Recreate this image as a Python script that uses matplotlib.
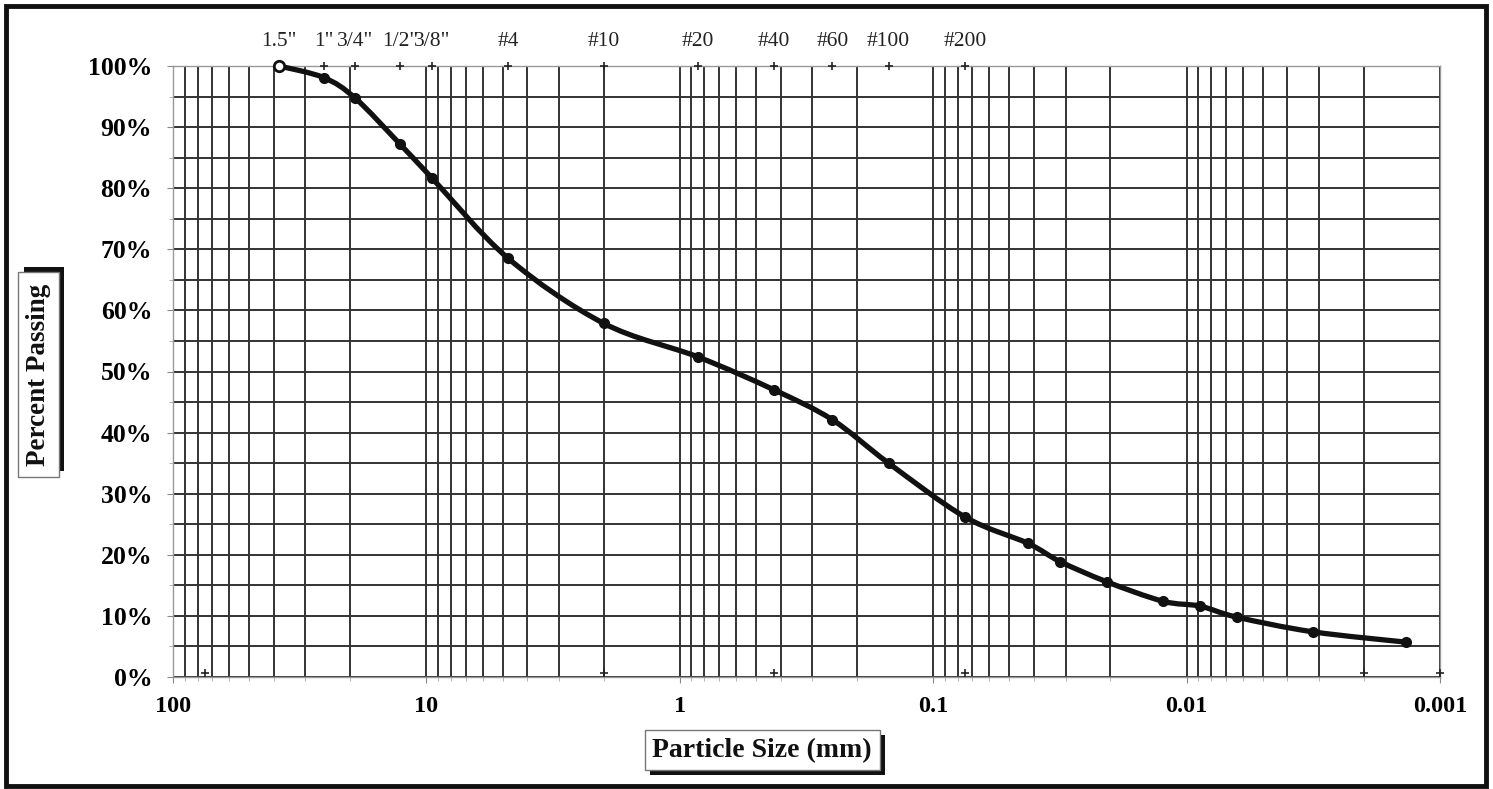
import matplotlib
matplotlib.use("Agg")
import matplotlib.pyplot as plt
import numpy as np
from matplotlib.path import Path
from matplotlib.patches import PathPatch, Rectangle
from matplotlib.ticker import FixedLocator, NullFormatter
import matplotlib.transforms as mtransforms

plt.rcParams['font.family'] = ['Liberation Serif', 'DejaVu Serif']

# ---- data ----
sieve_labels = ['1.5"', '1"', '3/4"', '1/2"', '3/8"', '#4', '#10', '#20', '#40', '#60', '#100', '#200']
sieve_mm = [38.1, 25.4, 19.05, 12.7, 9.525, 4.75, 2.0, 0.85, 0.425, 0.25, 0.15, 0.075]
sieve_pass = [100.0, 98.1, 94.7, 87.2, 81.7, 68.5, 57.9, 52.4, 47.0, 42.1, 35.0, 26.2]
hydro_mm = [0.0424, 0.0316, 0.0207, 0.0124, 0.00885, 0.00634, 0.00318, 0.00136]
hydro_pass = [21.9, 18.9, 15.6, 12.4, 11.6, 9.8, 7.4, 5.7]
boundary_mm = [75.0, 2.0, 0.425, 0.075, 0.002, 0.001]
x_ticks = [100, 10, 1, 0.1, 0.01, 0.001]
x_tick_labels = ['100', '10', '1', '0.1', '0.01', '0.001']
y_ticks = list(range(0, 101, 10))
y_tick_labels = [f'{v}%' for v in y_ticks]

W, H = 1493, 789
fig = plt.figure(figsize=(W / 100, H / 100), dpi=100)
fig.patch.set_facecolor('white')

L, R, T, B = 173, 1440, 66, 677
ax = fig.add_axes([L / W, 1 - B / H, (R - L) / W, (B - T) / H])
ax.set_xscale('log')
ax.set_xlim(100, 0.001)
ax.set_ylim(0, 100)

ax.xaxis.set_major_locator(FixedLocator(x_ticks))
ax.set_xticklabels(x_tick_labels, fontsize=17.5, fontweight='bold')
minor_x = [m * 10.0 ** e for e in range(-3, 2) for m in range(2, 10)]
ax.xaxis.set_minor_locator(FixedLocator(minor_x))
ax.xaxis.set_minor_formatter(NullFormatter())
ax.set_yticks(y_ticks)
ax.set_yticklabels(y_tick_labels, fontsize=18.5, fontweight='bold')
ax.yaxis.set_minor_locator(FixedLocator(list(range(5, 100, 10))))

ax.tick_params(axis='both', which='major', direction='out', length=4, width=0.8, color='#888888')
ax.tick_params(axis='both', which='minor', direction='out', length=3, width=0.6, color='#aaaaaa')
ax.tick_params(axis='x', which='major', pad=10)
ax.tick_params(axis='y', which='major', pad=11)

ax.grid(True, which='both', color='#333333', linewidth=1.4)
ax.set_axisbelow(True)
for s in ax.spines.values():
    s.set_color('#999999')
    s.set_linewidth(1.0)

# ---- smoothed curve (Excel-like Bezier) ----
xs = np.array(sieve_mm + hydro_mm)
ys = np.array(sieve_pass + hydro_pass)
fig.canvas.draw()
pts = ax.transData.transform(np.column_stack([xs, ys]))
n = len(pts)
verts = [pts[0]]
codes = [Path.MOVETO]
for i in range(n - 1):
    p0 = pts[i - 1] if i > 0 else pts[i]
    p1 = pts[i]
    p2 = pts[i + 1]
    p3 = pts[i + 2] if i + 2 < n else pts[i + 1]
    c1 = p1 + (p2 - p0) / 6.0
    c2 = p2 - (p3 - p1) / 6.0
    verts += [c1, c2, p2]
    codes += [Path.CURVE4] * 3
verts_data = ax.transData.inverted().transform(np.array(verts))
path = Path(verts_data, codes)
ax.add_patch(PathPatch(path, fill=False, edgecolor='#111111', linewidth=3.8,
                       transform=ax.transData, zorder=3, capstyle='round', joinstyle='round',
                       clip_on=False))

ax.plot(xs[1:], ys[1:], linestyle='none', marker='o', ms=7, color='#111111', zorder=4, clip_on=False)
ax.plot(xs[:1], ys[:1], linestyle='none', marker='o', ms=7.5, mfc='white', mec='#111111', mew=2,
        zorder=5, clip_on=False)

# sieve tick marks on top and boundary marks at bottom
ax.plot(sieve_mm[1:], [100.0] * (len(sieve_mm) - 1), linestyle='none', marker='+', ms=6,
        mew=1.2, color='#222222', zorder=4, clip_on=False)
ax.plot(boundary_mm, [0.7] * len(boundary_mm), linestyle='none', marker='+', ms=6,
        mew=1.2, color='#222222', zorder=4, clip_on=False)

# top sieve labels
trans = mtransforms.blended_transform_factory(ax.transData, ax.transAxes)
for lab, d in zip(sieve_labels, sieve_mm):
    ax.text(d, 1.0 + (T - 41) / (B - T), lab, transform=trans, ha='center', va='center',
            fontsize=15.5, color='#222222')

# ---- axis title boxes with shadows ----
def px_rect(x0, y0, x1, y1, **kw):
    return Rectangle((x0 / W, 1 - y1 / H), (x1 - x0) / W, (y1 - y0) / H,
                     transform=fig.transFigure, **kw)

fig.patches.append(px_rect(24, 267, 64, 471, facecolor='#111111', edgecolor='none', zorder=1))
fig.patches.append(px_rect(18, 272, 59, 477, facecolor='white', edgecolor='#777777', linewidth=1, zorder=2))
fig.text(38.5 / W, 1 - 374.5 / H, 'Percent Passing', rotation=90, ha='center', va='center',
         fontsize=19.5, fontweight='bold', color='#111111', zorder=3)

fig.patches.append(px_rect(650, 735, 885, 775, facecolor='#111111', edgecolor='none', zorder=1))
fig.patches.append(px_rect(645, 730, 880, 770, facecolor='white', edgecolor='#777777', linewidth=1, zorder=2))
fig.text(762 / W, 1 - 751 / H, 'Particle Size (mm)', ha='center', va='center',
         fontsize=20, fontweight='bold', color='#111111', zorder=3)

# outer frame
fig.patches.append(px_rect(6, 6, 1486, 786, facecolor='none', edgecolor='#111111', linewidth=3.5, zorder=5))

fig.savefig('out.png', dpi=100, facecolor='white')
